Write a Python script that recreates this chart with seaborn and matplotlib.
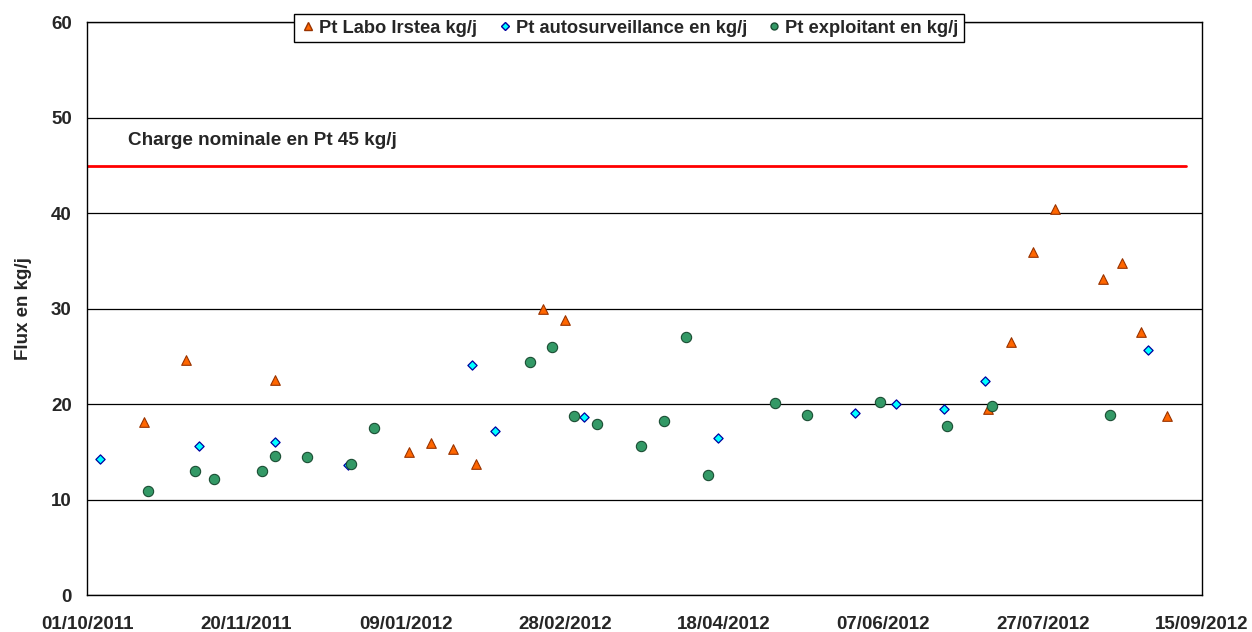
import pandas as pd
import matplotlib.pyplot as plt
import matplotlib.dates as mdates
from matplotlib.lines import Line2D
import seaborn as sns

# === Data ===
labo_dates = ["2011-10-19", "2011-11-01", "2011-11-29", "2012-01-10", "2012-01-17",
              "2012-01-24", "2012-01-31", "2012-02-21", "2012-02-28", "2012-07-10",
              "2012-07-17", "2012-07-24", "2012-07-31", "2012-08-15", "2012-08-21",
              "2012-08-27", "2012-09-04"]
labo_vals = [18.2, 24.7, 22.6, 15.05, 16.0, 15.3, 13.8, 30.0, 28.8, 19.5,
             26.5, 36.0, 40.5, 33.1, 34.85, 27.55, 18.8]

auto_dates = ["2011-10-05", "2011-11-05", "2011-11-29", "2011-12-22", "2012-01-30",
              "2012-02-06", "2012-03-05", "2012-04-16", "2012-05-29", "2012-06-11",
              "2012-06-26", "2012-07-09", "2012-08-29"]
auto_vals = [14.3, 15.6, 16.1, 13.7, 24.1, 17.2, 18.7, 16.5, 19.15, 20.1,
             19.55, 22.5, 25.7]

expl_dates = ["2011-10-20", "2011-11-04", "2011-11-10", "2011-11-25", "2011-11-29",
              "2011-12-09", "2011-12-23", "2011-12-30", "2012-02-17", "2012-02-24",
              "2012-03-02", "2012-03-09", "2012-03-23", "2012-03-30", "2012-04-06",
              "2012-04-13", "2012-05-04", "2012-05-14", "2012-06-06", "2012-06-27",
              "2012-07-11", "2012-08-17"]
expl_vals = [10.9, 13.0, 12.2, 13.0, 14.6, 14.5, 13.8, 17.5, 24.4, 26.05,
             18.8, 17.95, 15.6, 18.25, 27.1, 12.6, 20.15, 18.9, 20.3, 17.75,
             19.8, 18.9]

nominal_dates = ["2011-10-01", "2012-09-10"]
nominal_vals = [45, 45]

tick_dates = ["2011-10-01", "2011-11-20", "2012-01-09", "2012-02-28",
              "2012-04-18", "2012-06-07", "2012-07-27", "2012-09-15"]

labo = pd.DataFrame({'Date': pd.to_datetime(labo_dates), 'Flux': labo_vals})
auto = pd.DataFrame({'Date': pd.to_datetime(auto_dates), 'Flux': auto_vals})
expl = pd.DataFrame({'Date': pd.to_datetime(expl_dates), 'Flux': expl_vals})
nominal = pd.DataFrame({'Date': pd.to_datetime(nominal_dates), 'Flux': nominal_vals})

# === Plot ===
sns.set_style("white")
plt.rcParams['font.family'] = ['Liberation Sans', 'DejaVu Sans']
plt.rcParams['font.weight'] = 'bold'

fig = plt.figure(figsize=(12.52, 6.32), dpi=100)
ax = fig.add_axes([0.0695, 0.0578, 0.8905, 0.9066])

sns.lineplot(data=nominal, x='Date', y='Flux', color='#FF0000', linewidth=2.0, ax=ax)

sns.scatterplot(data=labo, x='Date', y='Flux', marker='^', s=48,
                color='#FF6600', edgecolor='#993300', linewidth=0.8, ax=ax, zorder=3)
sns.scatterplot(data=auto, x='Date', y='Flux', marker='D', s=22,
                color='#00FFFF', edgecolor='#0000A0', linewidth=0.9, ax=ax, zorder=3)
sns.scatterplot(data=expl, x='Date', y='Flux', marker='o', s=55,
                color='#339966', edgecolor='#1A4D33', linewidth=0.8, ax=ax, zorder=3)

ax.set_xlim(pd.Timestamp(tick_dates[0]), pd.Timestamp(tick_dates[-1]))
ax.set_ylim(0, 60)
ax.set_yticks(range(0, 61, 10))
ax.set_xticks(pd.to_datetime(tick_dates))
ax.xaxis.set_major_formatter(mdates.DateFormatter('%d/%m/%Y'))

ax.grid(True, axis='y', color='black', linewidth=0.9)
ax.grid(False, axis='x')
for sp in ax.spines.values():
    sp.set_color('black')
    sp.set_linewidth(1.0)

ax.tick_params(axis='both', direction='out', length=4.5, width=1, color='black',
               labelsize=13.5)
ax.tick_params(axis='y', pad=6.5)
ax.tick_params(axis='x', pad=10.5)
for lbl in ax.get_xticklabels() + ax.get_yticklabels():
    lbl.set_fontweight('bold')

ax.set_xlabel("")
ax.set_ylabel("Flux en kg/j", fontsize=13.5, fontweight='bold', labelpad=14)

ax.text(pd.Timestamp("2011-10-14"), 47.6, "Charge nominale en Pt 45 kg/j",
        fontsize=13.6, fontweight='bold', va='center', ha='left')

handles = [
    Line2D([], [], linestyle='none', marker='^', markersize=6,
           markerfacecolor='#FF6600', markeredgecolor='#993300'),
    Line2D([], [], linestyle='none', marker='D', markersize=4,
           markerfacecolor='#00FFFF', markeredgecolor='#0000A0'),
    Line2D([], [], linestyle='none', marker='o', markersize=5,
           markerfacecolor='#339966', markeredgecolor='#1A4D33'),
]
labels = ["Pt Labo Irstea kg/j", "Pt autosurveillance en kg/j", "Pt exploitant en kg/j"]
leg = ax.legend(handles, labels, ncol=3, loc='center',
                bbox_to_anchor=(0.486, 0.99), fancybox=False, framealpha=1,
                edgecolor='black', handletextpad=0.1, columnspacing=1.0,
                handlelength=1.0, borderpad=0.3, prop={'size': 13.2, 'weight': 'bold'})
leg.get_frame().set_linewidth(1.0)

plt.savefig("out.png", dpi=100)
